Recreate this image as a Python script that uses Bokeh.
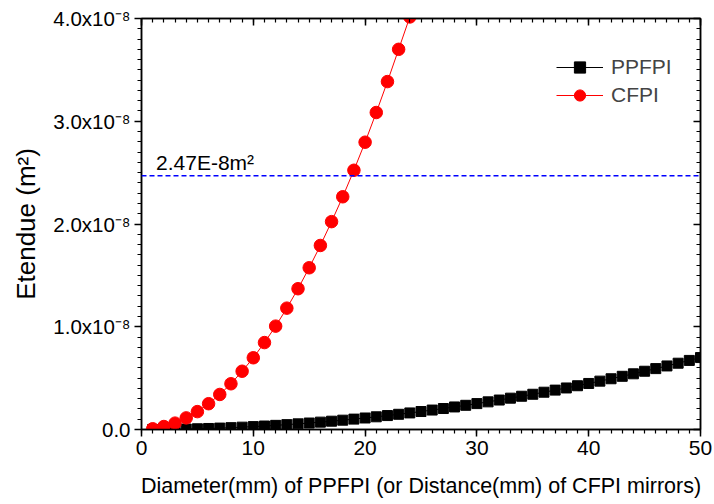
import numpy as np
from bokeh.plotting import figure
from bokeh.models import (Range1d, LinearAxis, FixedTicker, Span, Label, Legend,
                          LegendItem, CustomJSTickFormatter)
from bokeh.embed import file_html
from bokeh.resources import INLINE

# ---- data (etendue values in units of 1e-9 m^2) ----
x_ppfpi = list(range(1, 51))
etendue_ppfpi_e9 = [0.003, 0.011, 0.025, 0.045, 0.07, 0.10, 0.137, 0.18, 0.227, 0.28,
                    0.339, 0.403, 0.473, 0.549, 0.63, 0.717, 0.809, 0.907, 1.011, 1.12,
                    1.235, 1.355, 1.481, 1.613, 1.75, 1.893, 2.041, 2.195, 2.355, 2.52,
                    2.691, 2.867, 3.049, 3.237, 3.43, 3.629, 3.833, 4.043, 4.259, 4.48,
                    4.707, 4.939, 5.177, 5.421, 5.67, 5.925, 6.185, 6.451, 6.723, 7.0]
x_cfpi = list(range(1, 25))
etendue_cfpi_e9 = [0.07, 0.29, 0.62, 1.13, 1.74, 2.51, 3.41, 4.45, 5.67, 6.98,
                   8.46, 10.06, 11.81, 13.70, 15.74, 17.91, 20.23, 22.65, 25.23, 27.96,
                   30.85, 33.86, 37.00, 40.15]
threshold = 2.47e-8
threshold_text = "2.47E-8m²"

x_ticks = [0, 10, 20, 30, 40, 50]
y_ticks = [0.0, 1e-8, 2e-8, 3e-8, 4e-8]
y_tick_labels = ["0.0", "1.0x10⁻⁸", "2.0x10⁻⁸", "3.0x10⁻⁸", "4.0x10⁻⁸"]

y_ppfpi = [v * 1e-9 for v in etendue_ppfpi_e9]
y_cfpi = [v * 1e-9 for v in etendue_cfpi_e9]

FONT = "Liberation Sans"

p = figure(width=714, height=504, output_backend="svg", toolbar_location=None,
           x_range=Range1d(0, 50), y_range=Range1d(0, 4e-8),
           min_border_left=141, min_border_right=14, min_border_top=18,
           min_border_bottom=75, background_fill_color="white",
           border_fill_color="white")
p.xgrid.visible = False
p.ygrid.visible = False
p.outline_line_color = "black"
p.outline_line_width = 1.5

xticker = FixedTicker(ticks=x_ticks, minor_ticks=list(np.arange(0, 50.5, 1.0)))
yticker = FixedTicker(ticks=y_ticks, minor_ticks=list(np.arange(0, 4.05e-8, 1e-9)))

xa = p.xaxis[0]
xa.ticker = xticker
xa.axis_label = "Diameter(mm) of PPFPI (or Distance(mm) of CFPI mirrors)"
ya = p.yaxis[0]
ya.ticker = yticker
ya.major_label_overrides = {t: s for t, s in zip(y_ticks, y_tick_labels)}
ya.axis_label = "Etendue (m²)"

for ax in (xa, ya):
    ax.axis_line_width = 1.5
    ax.axis_line_color = "black"
    ax.major_tick_line_width = 1.5
    ax.minor_tick_line_width = 1.2
    ax.major_tick_in = 0
    ax.major_tick_out = 7
    ax.minor_tick_in = 0
    ax.minor_tick_out = 4
    ax.major_label_text_font = FONT
    ax.major_label_text_font_size = "21px"
    ax.major_label_text_color = "black"
    ax.axis_label_text_font = FONT
    ax.axis_label_text_font_style = "normal"
    ax.axis_label_text_color = "black"
ya.major_label_text_font_size = "20.5px"
xa.axis_label_text_font_size = "21.5px"
ya.axis_label_text_font_size = "26px"
xa.major_label_standoff = 4
ya.major_label_standoff = 4
xa.axis_label_standoff = 16
ya.axis_label_standoff = 9

blank = CustomJSTickFormatter(code="return ''")
top = LinearAxis(ticker=xticker, formatter=blank, major_tick_in=7, major_tick_out=0,
                 minor_tick_in=4, minor_tick_out=0, axis_line_width=1.5,
                 major_tick_line_width=1.5, minor_tick_line_width=1.2,
                 major_label_standoff=0)
right = LinearAxis(ticker=yticker, formatter=blank, major_tick_in=7, major_tick_out=0,
                   minor_tick_in=4, minor_tick_out=0, axis_line_width=1.5,
                   major_tick_line_width=1.5, minor_tick_line_width=1.2,
                   major_label_standoff=0)
p.add_layout(top, "above")
p.add_layout(right, "right")

p.add_layout(Span(location=threshold, dimension="width", line_color="#0000ff",
                  line_dash="5 3", line_width=1.6))
p.add_layout(Label(x=1.3, y=2.6e-8, text=threshold_text, text_font=FONT,
                   text_font_size="21px", text_color="black",
                   text_baseline="alphabetic"))

l1 = p.line(x_ppfpi, y_ppfpi, line_color="black", line_width=1)
s1 = p.scatter(x_ppfpi, y_ppfpi, marker="square", size=10, fill_color="black",
               line_color="black")
l2 = p.line(x_cfpi, y_cfpi, line_color="#ff0000", line_width=1)
s2 = p.scatter(x_cfpi, y_cfpi, marker="circle", size=12.5, fill_color="#ff0000",
               line_color="#ff0000")

legend = Legend(items=[LegendItem(label="PPFPI", renderers=[l1, s1]),
                       LegendItem(label="CFPI", renderers=[l2, s2])],
                location=(415, 320), padding=0, margin=0, spacing=-3,
                glyph_width=47, glyph_height=28, label_standoff=8,
                label_text_font=FONT, label_text_font_size="21px",
                border_line_alpha=0, background_fill_alpha=0)
p.add_layout(legend)

open("out.html", "w").write(file_html(p, INLINE))
